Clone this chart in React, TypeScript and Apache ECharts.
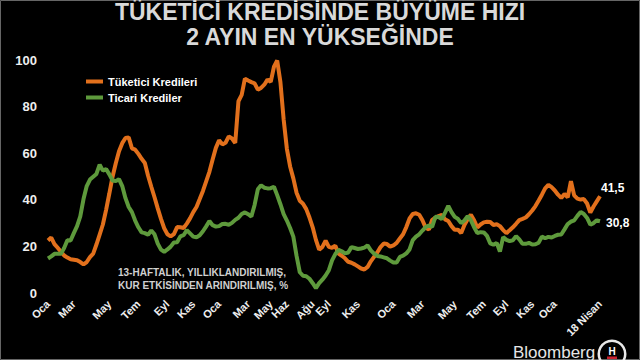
import React, { useEffect, useRef } from "react";
import * as echarts from "echarts";

// ---- data ----
const firstWeek = "2019-01-04";
const weekCount = 172;

const seriesNames = ["Tüketici Kredileri", "Ticari Krediler"];
const endLabelTexts = ["41,5", "30,8"];

// week (category) at which each axis label sits, as placed in the reference
const tickLabels: [string, string][] = [
  ["2019-01-04", "Oca"], ["2019-03-01", "Mar"], ["2019-05-17", "May"], ["2019-07-19", "Tem"],
  ["2019-09-20", "Eyl"], ["2019-11-15", "Kas"], ["2020-01-10", "Oca"], ["2020-03-13", "Mar"],
  ["2020-05-01", "May"], ["2020-06-05", "Haz"], ["2020-07-31", "Ağu"], ["2020-09-04", "Eyl"],
  ["2020-11-06", "Kas"], ["2021-01-22", "Oca"], ["2021-03-26", "Mar"], ["2021-06-04", "May"],
  ["2021-08-06", "Tem"], ["2021-09-24", "Eyl"], ["2021-11-19", "Kas"], ["2022-01-07", "Oca"],
  ["2022-04-15", "18 Nisan"],
];

const consumerLoans = [
  22.5, 23.8, 21, 19.4, 17.7, 16.1, 15.2, 14.5, 14.3, 14.1,
  13.3, 12.3, 13.3, 15.4, 16.9, 20.8, 25.1, 29.4, 35.7, 42.7,
  49.9, 55.7, 60.8, 64.3, 66.5, 66.8, 62.1, 61.5, 59.7, 57.6,
  55.8, 50.3, 45.6, 41.1, 36.3, 31.8, 27.8, 25.2, 24.3, 25.3,
  28.3, 28.2, 27.9, 29.8, 32, 34.7, 36.9, 40.3, 43.8, 47.9,
  52, 57.3, 62.3, 65.5, 63.8, 64.5, 67.2, 66.3, 64.4, 82.3,
  85, 92, 91.2, 90.5, 90, 87.3, 88, 89.4, 91.6, 90.6,
  97.1, 99.8, 90.5, 74.5, 61.9, 54.3, 49.2, 43, 39.6, 38.3,
  36, 32.4, 28.2, 22.8, 18.6, 19.8, 22.4, 19.8, 19.4, 20.3,
  16.9, 16, 14.9, 13.4, 13, 12.3, 11.4, 10.5, 10.1, 11.2,
  13.6, 15.5, 17.4, 19.7, 21.2, 21, 19.9, 20.4, 21.5, 23.4,
  25.2, 28.3, 32, 33.9, 34.2, 33.6, 31.2, 28, 27.2, 31.4,
  32.3, 33, 33.5, 31.6, 30.9, 28.7, 27.1, 27.2, 25.7, 29.2,
  31.6, 33.6, 31.2, 28.1, 29.4, 30.3, 30.6, 30.5, 29.2, 29.5,
  28.7, 27, 25.7, 26.9, 28.2, 29.7, 31.3, 31.8, 32.4, 33.8,
  35.4, 37.3, 39.7, 42.2, 44.9, 46.4, 45.4, 44, 42.2, 40.8,
  42.5, 41, 48, 41.9, 40.5, 40.1, 40.3, 38.4, 34.5, 37.1,
  39.3, 41.5,
];

const commercialLoans = [
  14.8, 15.7, 16.8, 16.9, 16.8, 19.3, 22.6, 22.5, 25.7, 28.7,
  32.9, 40.3, 45.9, 48.7, 49.9, 51.1, 55.1, 52.5, 53.2, 50.9,
  48.3, 48, 48.9, 45.9, 40.7, 36.9, 34.7, 31.1, 28.2, 26,
  25.7, 25, 26.8, 25.2, 21.2, 18.6, 17.7, 18.7, 19.9, 21.7,
  21.8, 24.3, 24.8, 27, 25.6, 24.2, 23.9, 24.8, 26.5, 28.6,
  30.9, 29.1, 28.5, 28.7, 29.6, 29.7, 29.3, 30.1, 31.4, 32.3,
  33.9, 34.6, 33.8, 32.8, 37.8, 44.5, 46.2, 45.2, 44.9, 45,
  45.6, 42, 38.1, 33.9, 31.1, 27.9, 24.2, 15.9, 8.9, 7.4,
  7.2, 6.1, 4.2, 2.1, 4.2, 5.7, 7.5, 9.8, 14, 16.7,
  18.5, 17.9, 17, 17.4, 19.7, 19.3, 18.9, 19.1, 19.5, 20.4,
  18.3, 16.9, 15.9, 15.7, 15.3, 14.9, 13.9, 13.1, 13.1, 15.5,
  16, 17, 18.7, 22.7, 24.2, 25.2, 26.8, 28.3, 29, 28.4,
  32.7, 32.6, 31.7, 34.5, 37.4, 34.7, 32.7, 31.8, 30, 31.1,
  33, 31.3, 28.2, 25.7, 26.1, 26, 24.5, 21.3, 20.7, 21.5,
  17.8, 24, 22.8, 22.3, 22.6, 24.4, 23, 21.1, 21.1, 21.5,
  20.8, 20.9, 21.6, 24.2, 23.5, 24.1, 23.8, 24.5, 25, 25.1,
  27.3, 29.6, 30.6, 31.2, 33.1, 34.8, 33.9, 32.2, 29.3, 30,
  31.2, 30.8,
];

const titleLines = ["TÜKETİCİ KREDİSİNDE BÜYÜME HIZI", "2 AYIN EN YÜKSEĞİNDE"];
const noteLines = ["13-HAFTALIK, YILLIKLANDIRILMIŞ,", "KUR ETKİSİNDEN ARINDIRILMIŞ, %"];

// ---- helpers ----
function buildWeeks(start: string, n: number): string[] {
  const base = new Date(start + "T00:00:00Z").getTime();
  const out: string[] = [];
  for (let i = 0; i < n; i++) {
    out.push(new Date(base + i * 7 * 86400000).toISOString().slice(0, 10));
  }
  return out;
}

const FONT = '"Liberation Sans", Arial, Helvetica, sans-serif';
const ORANGE = "#e2701c";
const GREEN = "#5e9a3c";

export default function App() {
  const ref = useRef<HTMLDivElement>(null);

  useEffect(() => {
    document.body.style.margin = "0";
    const categories = buildWeeks(firstWeek, weekCount);
    const labelByCat = new Map<string, string>();
    tickLabels.forEach(([key, text]) => {
      let idx = categories.indexOf(key);
      if (idx < 0) idx = categories.length - 1;
      labelByCat.set(categories[idx], text);
    });

    const chart = echarts.init(ref.current!, null, { renderer: "svg" });
    chart.setOption({
      animation: false,
      backgroundColor: "#000000",
      textStyle: { fontFamily: FONT },
      grid: { left: 48, right: 40, top: 60, bottom: 67 },
      legend: {
        orient: "vertical",
        left: 81,
        top: 71,
        icon: "rect",
        itemWidth: 17,
        itemHeight: 4,
        itemGap: 5,
        textStyle: { color: "#ffffff", fontSize: 11, fontWeight: "bold", fontFamily: FONT },
        data: seriesNames,
      },
      xAxis: {
        type: "category",
        data: categories,
        boundaryGap: false,
        axisLine: { show: false },
        axisTick: { show: false },
        splitLine: { show: false },
        axisLabel: {
          interval: (_i: number, v: string) => labelByCat.has(v),
          formatter: (v: string) => labelByCat.get(v) || "",
          rotate: 45,
          margin: 9,
          color: "#eeeeee",
          fontSize: 11,
          fontWeight: "bold",
          fontFamily: FONT,
        },
      },
      yAxis: {
        type: "value",
        min: 0,
        max: 100,
        interval: 20,
        splitLine: { show: false },
        axisLine: { show: false },
        axisTick: { show: false },
        axisLabel: { color: "#eeeeee", fontSize: 13, fontWeight: "bold", margin: 11, fontFamily: FONT },
      },
      series: [
        {
          name: seriesNames[0],
          type: "line",
          data: consumerLoans,
          symbol: "none",
          clip: false,
          color: ORANGE,
          lineStyle: { width: 4, color: ORANGE },
          endLabel: {
            show: true,
            formatter: () => endLabelTexts[0],
            color: "#ffffff",
            fontSize: 12,
            fontWeight: "bold",
            fontFamily: FONT,
            distance: 1,
            offset: [0, -8],
          },
        },
        {
          name: seriesNames[1],
          type: "line",
          data: commercialLoans,
          symbol: "none",
          clip: false,
          color: GREEN,
          lineStyle: { width: 4, color: GREEN },
          endLabel: {
            show: true,
            formatter: () => endLabelTexts[1],
            color: "#ffffff",
            fontSize: 12,
            fontWeight: "bold",
            fontFamily: FONT,
            distance: 6,
            offset: [0, 2],
          },
        },
      ],
      graphic: [
        {
          type: "rect",
          shape: { x: 0.5, y: 0.5, width: 639, height: 359 },
          style: { fill: "none", stroke: "#666666", lineWidth: 1 },
          silent: true,
        },
        {
          type: "text",
          x: 320,
          y: 12,
          style: {
            text: titleLines[0],
            fill: "#d9d9d9",
            font: `bold 23px ${FONT}`,
            textAlign: "center",
            textVerticalAlign: "middle",
          },
        },
        {
          type: "text",
          x: 320,
          y: 37,
          style: {
            text: titleLines[1],
            fill: "#d9d9d9",
            font: `bold 23px ${FONT}`,
            textAlign: "center",
            textVerticalAlign: "middle",
          },
        },
        {
          type: "text",
          x: 118,
          y: 272,
          style: {
            text: noteLines[0],
            fill: "#d0d0d0",
            font: `bold 10px ${FONT}`,
            textAlign: "left",
            textVerticalAlign: "middle",
          },
        },
        {
          type: "text",
          x: 118,
          y: 285,
          style: {
            text: noteLines[1],
            fill: "#d0d0d0",
            font: `bold 10px ${FONT}`,
            textAlign: "left",
            textVerticalAlign: "middle",
          },
        },
        {
          type: "text",
          x: 513,
          y: 352,
          style: {
            text: "Bloomberg",
            fill: "#e6e6e6",
            font: `17px ${FONT}`,
            textAlign: "left",
            textVerticalAlign: "middle",
          },
        },
        {
          type: "ring",
          shape: { cx: 612, cy: 354, r: 14.5, r0: 12 },
          style: { fill: "#e8e8e8" },
        },
        {
          type: "text",
          x: 612,
          y: 351,
          style: {
            text: "H",
            fill: "#ffffff",
            font: `bold 10px ${FONT}`,
            textAlign: "center",
            textVerticalAlign: "middle",
          },
        },
        {
          type: "rect",
          shape: { x: 607, y: 356.5, width: 10, height: 2.5 },
          style: { fill: "#c8202e" },
        },
      ],
    });
    return () => chart.dispose();
  }, []);

  return <div ref={ref} style={{ width: 640, height: 360, background: "#000" }} />;
}
